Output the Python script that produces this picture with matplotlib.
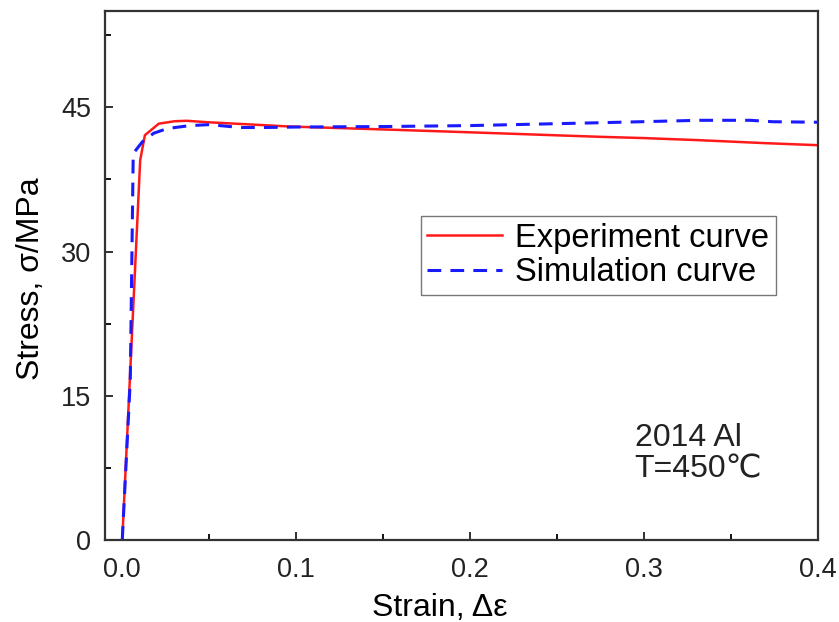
import matplotlib
matplotlib.use('Agg')
import matplotlib.pyplot as plt
from matplotlib.ticker import MultipleLocator, FormatStrFormatter

plt.rcParams['font.family'] = ['Liberation Sans', 'DejaVu Sans']

exp_strain = [0.0, 0.0103, 0.013, 0.021, 0.03, 0.037, 0.049, 0.0966, 0.15, 0.2,
              0.275, 0.3, 0.332, 0.37, 0.4]
exp_stress = [0.0, 39.5, 42.1, 43.3, 43.55, 43.6, 43.45, 43.0, 42.7, 42.4,
              41.93, 41.8, 41.58, 41.27, 41.06]

sim_strain = [0.0, 0.0046, 0.0063, 0.0115, 0.018, 0.026, 0.039, 0.05, 0.068, 0.081,
              0.1, 0.15, 0.2, 0.275, 0.332, 0.361, 0.374, 0.4]
sim_stress = [0.0, 16.6, 40.2, 41.4, 42.3, 42.8, 43.1, 43.2, 42.9, 42.9,
              42.95, 43.0, 43.1, 43.4, 43.65, 43.65, 43.5, 43.45]

fig = plt.figure(figsize=(8.39, 6.22), dpi=100)
ax = fig.add_axes([0.125, 0.132, 0.85, 0.85])

ax.plot(exp_strain, exp_stress, color="#ff1a1a", linewidth=1.8, label="Experiment curve")
ax.plot(sim_strain, sim_stress, color="#1a1aff", linewidth=2.2, linestyle=(0, (4.5, 3)),
        label="Simulation curve")

ax.set_xlim(-0.01, 0.4)
ax.set_ylim(0, 55)
ax.xaxis.set_major_locator(MultipleLocator(0.1))
ax.xaxis.set_minor_locator(MultipleLocator(0.05))
ax.xaxis.set_major_formatter(FormatStrFormatter('%.1f'))
ax.yaxis.set_minor_locator(MultipleLocator(7.5))
ax.set_yticks([0, 15, 30, 45])

ax.tick_params(which='major', direction='in', length=6, width=1.3, labelsize=19.5,
               colors='#222222')
ax.tick_params(axis='x', which='major', pad=12)
ax.tick_params(axis='y', which='major', pad=10)
ax.tick_params(which='minor', direction='in', length=4, width=1.3)
for spine in ax.spines.values():
    spine.set_linewidth(1.6)
    spine.set_edgecolor('#333333')

ax.set_xlabel("Strain, \u0394\u03b5", fontsize=23)
ax.set_ylabel("Stress, \u03c3/MPa", fontsize=23)
ax.xaxis.set_label_coords(0.47, -0.10)
ax.yaxis.set_label_coords(-0.083, 0.495)

leg = ax.legend(loc='upper left', bbox_to_anchor=(0.443, 0.612), fontsize=23.5,
                frameon=True, fancybox=False, edgecolor='#555555',
                handlelength=2.3, handletextpad=0.4, borderpad=0.2, labelspacing=0.1,
                borderaxespad=0)
leg.get_frame().set_linewidth(1.0)

ax.text(0.743, 0.222, "2014 Al\nT=450\u2103", transform=ax.transAxes, fontsize=23,
        color='#222222', va='top', ha='left', linespacing=1.1)

fig.savefig("out.png", dpi=100, facecolor='white')
